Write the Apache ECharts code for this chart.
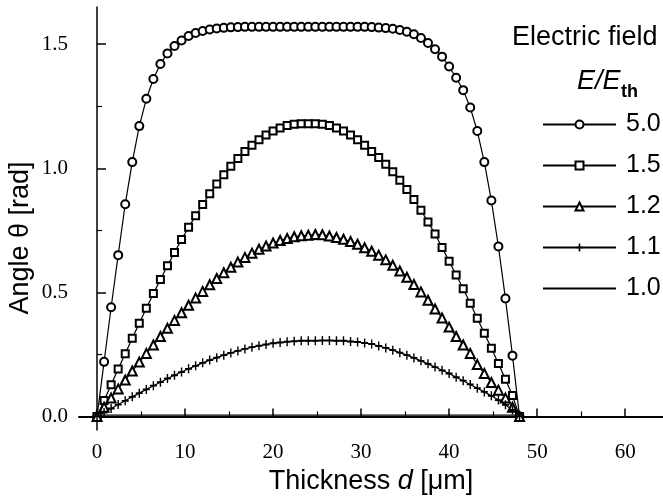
<!DOCTYPE html>
<html>
<head>
<meta charset="utf-8">
<script src="https://cdn.jsdelivr.net/npm/echarts@6/dist/echarts.min.js"></script>
<style>
html, body { margin: 0; padding: 0; background: #fff; }
#chart { width: 663px; height: 500px; }
</style>
</head>
<body>
<div id="chart"></div>
<script>
// thickness d [um], same grid for the four curves
var thickness = [0, 0.8, 1.6, 2.4, 3.2, 4, 4.8, 5.6, 6.4, 7.2,
	8, 8.8, 9.6, 10.4, 11.2, 12, 12.8, 13.6, 14.4, 15.2,
	16, 16.8, 17.6, 18.4, 19.2, 20, 20.8, 21.6, 22.4, 23.2,
	24, 24.8, 25.6, 26.4, 27.2, 28, 28.8, 29.6, 30.4, 31.2,
	32, 32.8, 33.6, 34.4, 35.2, 36, 36.8, 37.6, 38.4, 39.2,
	40, 40.8, 41.6, 42.4, 43.2, 44, 44.8, 45.6, 46.4, 47.2,
	48];

// angle theta [rad] for E/Eth = 5.0
var theta50 = [0, 0.22, 0.44, 0.65, 0.855, 1.025, 1.17, 1.28, 1.36, 1.42,
	1.463, 1.493, 1.515, 1.533, 1.545, 1.553, 1.559, 1.563, 1.566, 1.568,
	1.569, 1.57, 1.57, 1.57, 1.57, 1.57, 1.57, 1.57, 1.57, 1.57,
	1.57, 1.57, 1.57, 1.57, 1.57, 1.57, 1.57, 1.57, 1.57, 1.569,
	1.567, 1.565, 1.562, 1.557, 1.55, 1.54, 1.525, 1.505, 1.48, 1.45,
	1.41, 1.365, 1.315, 1.245, 1.15, 1.025, 0.87, 0.685, 0.475, 0.245,
	0];

// E/Eth = 1.5
var theta15 = [0, 0.064, 0.128, 0.191, 0.253, 0.315, 0.376, 0.436, 0.495, 0.552,
	0.607, 0.661, 0.713, 0.762, 0.809, 0.854, 0.897, 0.937, 0.974, 1.008,
	1.039, 1.068, 1.093, 1.115, 1.134, 1.15, 1.162, 1.172, 1.178, 1.18,
	1.18, 1.18, 1.178, 1.172, 1.162, 1.15, 1.134, 1.115, 1.093, 1.068,
	1.044, 1.016, 0.986, 0.952, 0.915, 0.874, 0.831, 0.784, 0.735, 0.681,
	0.625, 0.57, 0.515, 0.456, 0.396, 0.335, 0.275, 0.213, 0.15, 0.084,
	0];

// E/Eth = 1.2
var theta12 = [0, 0.037, 0.074, 0.111, 0.147, 0.183, 0.219, 0.254, 0.288, 0.322,
	0.355, 0.387, 0.418, 0.448, 0.477, 0.504, 0.531, 0.556, 0.579, 0.601,
	0.622, 0.641, 0.658, 0.674, 0.687, 0.699, 0.709, 0.717, 0.724, 0.728,
	0.73, 0.733, 0.732, 0.727, 0.721, 0.714, 0.705, 0.694, 0.68, 0.666,
	0.65, 0.631, 0.609, 0.586, 0.561, 0.532, 0.502, 0.468, 0.433, 0.397,
	0.36, 0.322, 0.288, 0.254, 0.209, 0.173, 0.137, 0.106, 0.074, 0.037,
	0];

// E/Eth = 1.1
var theta11 = [0, 0.016, 0.032, 0.048, 0.063, 0.079, 0.094, 0.109, 0.124, 0.138,
	0.153, 0.166, 0.179, 0.192, 0.204, 0.216, 0.227, 0.237, 0.247, 0.256,
	0.264, 0.272, 0.279, 0.285, 0.29, 0.295, 0.298, 0.301, 0.303, 0.305,
	0.305, 0.305, 0.306, 0.306, 0.305, 0.305, 0.302, 0.3, 0.296, 0.292,
	0.284, 0.276, 0.267, 0.257, 0.247, 0.236, 0.224, 0.212, 0.199, 0.186,
	0.173, 0.158, 0.144, 0.129, 0.114, 0.099, 0.083, 0.066, 0.047, 0.026,
	0];

// E/Eth = 1.0 (no reorientation)
var thickness10 = [0, 48];
var theta10 = [0.005, 0.005];

var fieldNames = ['5.0', '1.5', '1.2', '1.1', '1.0'];
var xTicks = [0, 10, 20, 30, 40, 50, 60];
var xMinorTicks = [5, 15, 25, 35, 45, 55];
var yTicks = [0, 0.5, 1.0, 1.5];
var yMinorTicks = [0.25, 0.75, 1.25];

var SANS = '"Liberation Sans", Arial, sans-serif';
var SERIF = '"Liberation Serif", "Times New Roman", serif';
var PLUS = 'path://M4,0H6V4H10V6H6V10H4V6H0V4H4Z';

//
function pairs(xs, ys) {
	return xs.map(function (x, i) {
		return [x, ys[i]];
	});
}

//
function curve(name, xs, ys, symbol, size) {
	return {
		name: name,
		type: 'line',
		data: pairs(xs, ys),
		symbol: symbol,
		symbolSize: size,
		showAllSymbol: true,
		lineStyle: { color: '#000', width: 1.2 },
		itemStyle: { color: '#000', borderColor: '#000', borderWidth: symbol === PLUS ? 0 : 1.2 },
		emphasis: { disabled: true }
	};
}

var chart = echarts.init(document.getElementById('chart'), null, { renderer: 'canvas' });

var xRange = { min: -2.05, max: 64.3 };
var yRange = { min: -0.055, max: 1.65 };

// legend entries; the plain line (1.0) has no marker
var legendData = fieldNames.map(function (n) {
	if (n === '1.0') {
		return { name: n, itemStyle: { color: 'rgba(0,0,0,0)', borderColor: 'rgba(0,0,0,0)', borderWidth: 0 } };
	}
	return { name: n };
});

var option = {
	animation: false,
	backgroundColor: '#fff',
	grid: { left: 79, right: 0, top: 7, bottom: 62 },
	legend: {
		orient: 'vertical',
		left: 542,
		top: 112,
		padding: 0,
		itemWidth: 73,
		itemHeight: 10,
		itemGap: 16,
		selectedMode: false,
		data: legendData,
		textStyle: { fontFamily: SANS, fontSize: 25, color: '#000', padding: [0, 0, 0, 5] }
	},
	xAxis: [{
		type: 'value',
		position: 'bottom',
		min: xRange.min,
		max: xRange.max,
		axisLine: { lineStyle: { color: '#000', width: 2 } },
		axisTick: { inside: true, length: 8, customValues: xTicks, lineStyle: { color: '#000', width: 1.5 } },
		axisLabel: { customValues: xTicks, margin: 12, fontFamily: SERIF, fontSize: 21, color: '#000' },
		splitLine: { show: false },
		name: 'Thickness {i|d} [\u03bcm]',
		nameLocation: 'middle',
		nameGap: 32,
		nameTextStyle: {
			fontFamily: SANS, fontSize: 27, color: '#000',
			rich: { i: { fontFamily: SANS, fontSize: 27, fontStyle: 'italic', color: '#000' } }
		}
	}, {
		type: 'value',
		position: 'bottom',
		min: xRange.min,
		max: xRange.max,
		axisLine: { show: false },
		axisTick: { inside: true, length: 5, customValues: xMinorTicks, lineStyle: { color: '#000', width: 1.2 } },
		axisLabel: { show: false },
		splitLine: { show: false }
	}],
	yAxis: [{
		type: 'value',
		position: 'left',
		min: yRange.min,
		max: yRange.max,
		axisLine: { show: true, lineStyle: { color: '#000', width: 1.5 } },
		axisTick: { show: true, inside: true, length: 9, customValues: yTicks, lineStyle: { color: '#000', width: 1.5 } },
		axisLabel: {
			customValues: yTicks, margin: 11, fontFamily: SERIF, fontSize: 21, color: '#000',
			formatter: function (v) { return v.toFixed(1); }
		},
		splitLine: { show: false }
	}, {
		type: 'value',
		position: 'left',
		min: yRange.min,
		max: yRange.max,
		axisLine: { show: false },
		axisTick: { show: true, inside: true, length: 5, customValues: yMinorTicks, lineStyle: { color: '#000', width: 1.2 } },
		axisLabel: { show: false },
		splitLine: { show: false }
	}],
	graphic: [{
		type: 'text',
		x: 21, y: 238,
		rotation: Math.PI / 2,
		style: { text: 'Angle \u03b8 [rad]', font: '27px ' + SANS, fill: '#000', align: 'center', verticalAlign: 'middle' }
	}, {
		type: 'text',
		x: 512, y: 38,
		style: { text: 'Electric field', font: '27px ' + SANS, fill: '#000', align: 'left', verticalAlign: 'middle' }
	}, {
		type: 'text',
		x: 577, y: 81,
		style: { text: 'E/E', font: 'italic 27px ' + SANS, fill: '#000', align: 'left', verticalAlign: 'middle' }
	}, {
		type: 'text',
		x: 621, y: 92,
		style: { text: 'th', font: 'bold 18px ' + SANS, fill: '#000', align: 'left', verticalAlign: 'middle' }
	}],
	series: [
		curve('5.0', thickness, theta50, 'emptyCircle', 8),
		curve('1.5', thickness, theta15, 'emptyRect', 7),
		curve('1.2', thickness, theta12, 'emptyTriangle', 9),
		curve('1.1', thickness, theta11, PLUS, [7, 9]),
		curve('1.0', thickness10, theta10, 'none', 0)
	]
};

chart.setOption(option);
</script>
</body>
</html>
